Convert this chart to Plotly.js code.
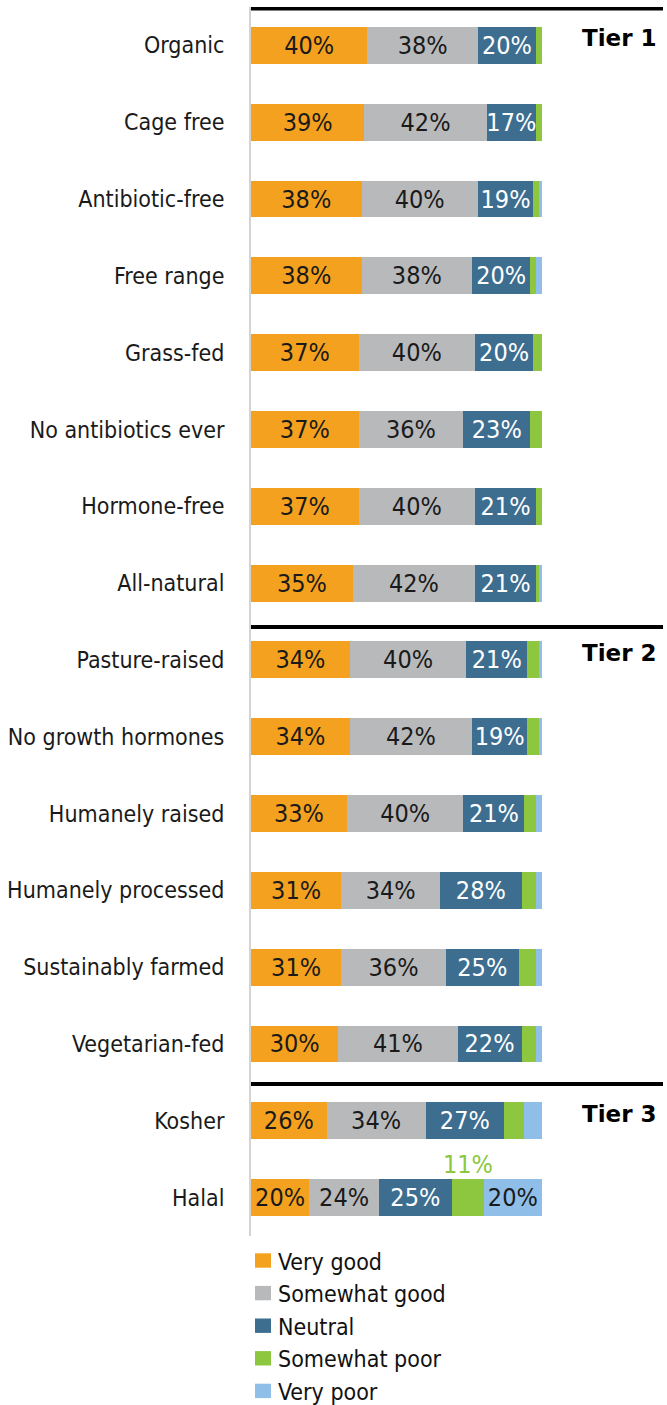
<!DOCTYPE html>
<html>
<head>
<meta charset="utf-8">
<script src="https://cdn.plot.ly/plotly-3.0.1.min.js"></script>
<style>html,body{margin:0;padding:0;background:#fff;}#chart{width:667px;height:1405px;}</style>
</head>
<body>
<div id="chart"></div>
<script>
const categories = ["Organic","Cage free","Antibiotic-free","Free range","Grass-fed","No antibiotics ever","Hormone-free","All-natural","Pasture-raised","No growth hormones","Humanely raised","Humanely processed","Sustainably farmed","Vegetarian-fed","Kosher","Halal"];
const veryGood      = [40,39,38,38,37,37,37,35,34,34,33,31,31,30,26,20];
const somewhatGood  = [38,42,40,38,40,36,40,42,40,42,40,34,36,41,34,24];
const neutral       = [20,17,19,20,20,23,21,21,21,19,21,28,25,22,27,25];
const somewhatPoor  = [2,2,2,2,3,4,2,1,4,4,4,5,6,5,7,11];
const veryPoor      = [0,0,1,2,0,0,0,1,1,1,2,2,2,2,6,20];
const seriesNames = ["Very good","Somewhat good","Neutral","Somewhat poor","Very poor"];
const tierLabels = ["Tier 1","Tier 2","Tier 3"];
const tierFirst = ["Organic","Pasture-raised","Kosher"];

const colors = ["#F4A11F","#B8B9BB","#3D6E8F","#8DC63F","#8FBFE8"];
const labelFont = "'DejaVu Sans Condensed','Liberation Sans Narrow',sans-serif";

// figure geometry (pixels)
const W = 667, H = 1405, ML = 251, MR = 0, MT = 7, MB = 169;
const plotW = W - ML - MR, plotH = H - MT - MB;
const px2paperX = px => (px - ML) / plotW;
const px2paperY = py => (H - MB - py) / plotH;

function mk(name, vals, color, textColor, showFn) {
  return {
    type: 'bar', orientation: 'h', name: name,
    y: categories, x: vals,
    marker: {color: color, line: {width: 0}},
    text: vals.map(v => showFn(v) ? v + '%' : ''),
    textposition: 'inside', insidetextanchor: 'middle',
    constraintext: 'none',
    textfont: {family: labelFont, size: 25, color: textColor},
    hoverinfo: 'skip', showlegend: false
  };
}

const traces = [
  mk(seriesNames[0], veryGood, colors[0], '#1a1a1a', v => true),
  mk(seriesNames[1], somewhatGood, colors[1], '#1a1a1a', v => true),
  mk(seriesNames[2], neutral, colors[2], '#ffffff', v => true),
  mk(seriesNames[3], somewhatPoor, colors[3], '#1a1a1a', v => false),
  mk(seriesNames[4], veryPoor, colors[4], '#1a1a1a', v => v >= 10)
];

const halalIdx = categories.indexOf("Halal");
const annotations = tierLabels.map((t, i) => ({
  xref: 'paper', yref: 'y', x: px2paperX(659), y: tierFirst[i], xanchor: 'right', yanchor: 'middle',
  yshift: 7, text: '<b>' + t + '</b>', showarrow: false,
  font: {family: "'DejaVu Sans', sans-serif", size: 23, color: '#000'}
}));
annotations.push({
  xref: 'x', yref: 'y',
  x: veryGood[halalIdx] + somewhatGood[halalIdx] + neutral[halalIdx] + somewhatPoor[halalIdx] / 2,
  y: "Halal", yshift: 33, showarrow: false,
  text: somewhatPoor[halalIdx] + '%',
  font: {family: labelFont, size: 25, color: colors[3]}
});

const tierLineY = [-0.48, 7.57, 13.52];
const shapes = tierLineY.map(yv => ({
  type: 'line', xref: 'paper', yref: 'y', x0: 0, x1: px2paperX(663), y0: yv, y1: yv,
  line: {color: '#000', width: 4}
}));

// legend (below the plot)
const legendTop = 1260.5, legendStep = 32.6;
seriesNames.forEach((name, i) => {
  const cy = legendTop + i * legendStep;
  shapes.push({
    type: 'rect', xref: 'paper', yref: 'paper',
    x0: px2paperX(255), x1: px2paperX(271),
    y0: px2paperY(cy - 7.2), y1: px2paperY(cy + 7.2),
    fillcolor: colors[i], line: {width: 0}
  });
  annotations.push({
    xref: 'paper', yref: 'paper', x: px2paperX(276), y: px2paperY(cy + 1),
    xanchor: 'left', yanchor: 'middle', showarrow: false, text: name,
    font: {family: labelFont, size: 23, color: '#111'}
  });
});

const layout = {
  width: W, height: H,
  margin: {l: ML, r: MR, t: MT, b: MB},
  paper_bgcolor: '#fff', plot_bgcolor: '#fff',
  barmode: 'stack', bargap: 0.52,
  showlegend: false,
  xaxis: {range: [0, 143], visible: false, fixedrange: true},
  yaxis: {
    type: 'category', categoryorder: 'array', categoryarray: categories,
    range: [15.5, -0.5],
    showline: true, linecolor: '#d3d3d3', linewidth: 2,
    showgrid: false, zeroline: false,
    ticks: 'outside', ticklen: 20, tickcolor: 'rgba(0,0,0,0)',
    tickfont: {family: labelFont, size: 23, color: '#1a1a1a'},
    fixedrange: true
  },
  shapes: shapes,
  annotations: annotations,
  font: {family: labelFont}
};

Plotly.newPlot('chart', traces, layout, {displayModeBar: false, staticPlot: true});
</script>
</body>
</html>
